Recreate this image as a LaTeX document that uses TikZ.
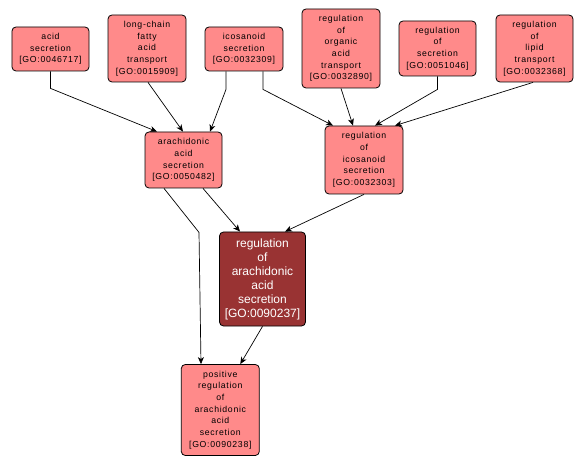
\documentclass[tikz,border=0pt]{standalone}
\usepackage{fontspec}
\setmainfont{Liberation Sans}
\newfontfamily\lab[LetterSpace=8]{Liberation Sans}
\usetikzlibrary{arrows.meta}
\definecolor{lightgo}{RGB}{255,138,138}
\definecolor{darkgo}{RGB}{153,51,51}
\tikzset{
  gonode/.style={draw=black, line width=0.8pt, rounded corners=4bp, fill=lightgo,
    inner sep=0pt, align=center, font=\lab\fontsize{8.7bp}{11.7bp}\selectfont},
  gomain/.style={draw=black, line width=0.8pt, rounded corners=4bp, fill=darkgo,
    inner sep=0pt, align=center, text=white, font=\fontsize{12bp}{14bp}\selectfont},
  edge/.style={draw=black, line width=0.7pt, -{Stealth[length=7bp,width=6bp,inset=2bp]}}
}
\begin{document}
\begin{tikzpicture}[x=1bp,y=-1bp]
\useasboundingbox[fill=white] (0,0) rectangle (587,465);
\node[gonode, minimum width=77bp, minimum height=44bp] (acid) at (50.5,49) {acid\\secretion\\{[GO:0046717]}};
\node[gonode, minimum width=78bp, minimum height=67bp] (lcf) at (147,48.5) {long-chain\\fatty\\acid\\transport\\{[GO:0015909]}};
\node[gonode, minimum width=78bp, minimum height=44bp] (ico) at (244,49) {icosanoid\\secretion\\{[GO:0032309]}};
\node[gonode, minimum width=78bp, minimum height=79bp] (rorg) at (341,48.5) {regulation\\of\\organic\\acid\\transport\\{[GO:0032890]}};
\node[gonode, minimum width=77bp, minimum height=55bp] (rsec) at (437.5,48.5) {regulation\\of\\secretion\\{[GO:0051046]}};
\node[gonode, minimum width=77bp, minimum height=67bp] (rlip) at (534.5,48.5) {regulation\\of\\lipid\\transport\\{[GO:0032368]}};
\node[gonode, minimum width=77bp, minimum height=56bp] (arach) at (183.5,160) {arachidonic\\acid\\secretion\\{[GO:0050482]}};
\node[gonode, minimum width=78bp, minimum height=68bp] (rico) at (364,160) {regulation\\of\\icosanoid\\secretion\\{[GO:0032303]}};
\node[gomain, minimum width=86bp, minimum height=94bp] (rarach) at (262.5,279) {regulation\\of\\arachidonic\\acid\\secretion\\{[GO:0090237]}};
\node[gonode, minimum width=78bp, minimum height=91bp] (pos) at (220.3,410) {positive\\regulation\\of\\arachidonic\\acid\\secretion\\{[GO:0090238]}};

\draw[edge] (acid.south) -- ++(0,17) -- ([xshift=-26.5bp]arach.north);
\draw[edge] ([xshift=1bp]lcf.south) -- ([xshift=-0.5bp]arach.north);
\draw[edge] ([xshift=-18bp]ico.south) -- ++(0,18) -- ([xshift=26.5bp]arach.north);
\draw[edge] ([xshift=19bp]ico.south) -- ++(0,18) -- ([xshift=-31bp]rico.north);
\draw[edge] (rorg.south) -- ([xshift=-11bp]rico.north);
\draw[edge] (rsec.south) -- ++(0,13) -- ([xshift=11bp]rico.north);
\draw[edge] ([xshift=-1.5bp]rlip.south) -- ([xshift=31bp]rico.north);
\draw[edge] ([xshift=-19.5bp]arach.south) -- ++(35,44) -- ([xshift=-19.3bp]pos.north);
\draw[edge] ([xshift=19.5bp]arach.south) -- ([xshift=-22.5bp]rarach.north);
\draw[edge] (rico.south) -- ([xshift=22.5bp]rarach.north);
\draw[edge] (rarach.south) -- ([xshift=20bp]pos.north);
\end{tikzpicture}
\end{document}
